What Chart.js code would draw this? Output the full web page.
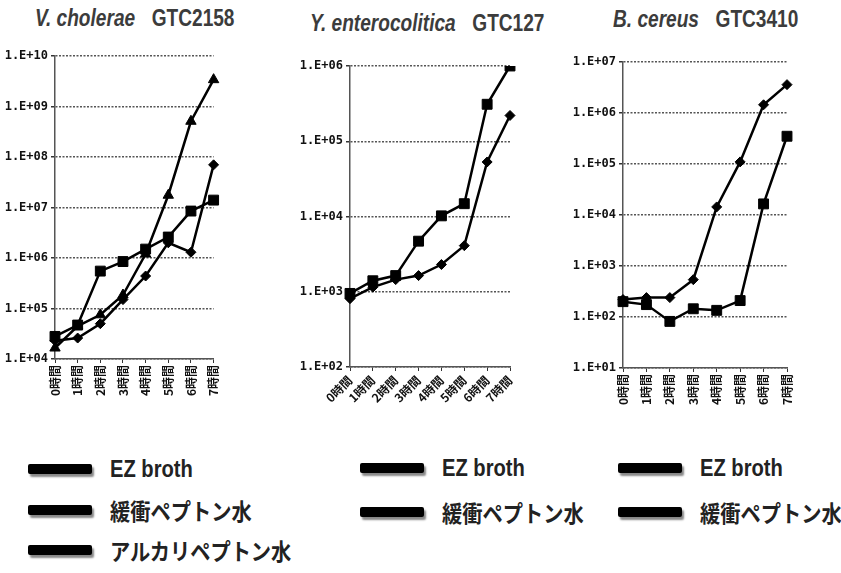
<!DOCTYPE html>
<html>
<head>
<meta charset="utf-8">
<script src="https://cdn.jsdelivr.net/npm/chart.js@4.4.1/dist/chart.umd.min.js"></script>
<style>
  body { margin: 0; background: #fff; width: 841px; height: 573px; position: relative; overflow: hidden;
         font-family: 'Liberation Sans Narrow', 'Liberation Sans', sans-serif; }
  canvas { position: absolute; top: 0; }
  .title { position: absolute; font-weight: bold; font-size: 23px; line-height: 26px; color: #3c3c3c; white-space: nowrap;
           transform: scaleX(0.83); transform-origin: left center; }
  .title i { margin-right: 20px; }
  .leg { position: absolute; height: 30px; display: flex; align-items: center; white-space: nowrap; }
  .bar { width: 64px; height: 10px; background: #000; box-shadow: 2px 3px 2px #888; border-radius: 2px; margin-right: 18px; }
  .en { font-size: 24px; font-weight: bold; color: #222; display: inline-block;
        transform: scaleX(0.84); transform-origin: left center; }
  .jp { font-family: 'Noto Sans CJK JP'; font-size: 23px; font-weight: bold; color: #222;
        display: inline-block; transform: scaleX(0.88); transform-origin: left center; }
</style>
</head>
<body>
<div class="title" style="left:35px;top:5px"><i>V. cholerae</i>GTC2158</div>
<div class="title" style="left:310px;top:10px"><i>Y. enterocolitica</i>GTC127</div>
<div class="title" style="left:613px;top:6px"><i>B. cereus</i>GTC3410</div>

<canvas id="c1" width="230" height="420" style="left:0px"></canvas>
<canvas id="c2" width="250" height="420" style="left:280px"></canvas>
<canvas id="c3" width="281" height="420" style="left:560px"></canvas>

<div class="leg" style="left:28px;top:454px"><span class="bar"></span><span class="en">EZ broth</span></div>
<div class="leg" style="left:28px;top:495px"><span class="bar"></span><span class="jp">緩衝ペプトン水</span></div>
<div class="leg" style="left:28px;top:535px"><span class="bar"></span><span class="jp">アルカリペプトン水</span></div>

<div class="leg" style="left:360px;top:453px"><span class="bar"></span><span class="en">EZ broth</span></div>
<div class="leg" style="left:360px;top:497px"><span class="bar"></span><span class="jp">緩衝ペプトン水</span></div>

<div class="leg" style="left:618px;top:453px"><span class="bar"></span><span class="en">EZ broth</span></div>
<div class="leg" style="left:618px;top:497px"><span class="bar"></span><span class="jp">緩衝ペプトン水</span></div>

<script>
const hours = ['0時間', '1時間', '2時間', '3時間', '4時間', '5時間', '6時間', '7時間'];

// V. cholerae GTC2158
const vcEz  = [2.3e4, 2.6e4, 5.0e4, 1.5e5, 4.4e5, 2.0e6, 1.3e6, 7.0e7];
const vcBpw = [2.8e4, 4.7e4, 5.5e5, 8.5e5, 1.5e6, 2.6e6, 8.5e6, 1.4e7];
const vcApw = [1.65e4, 4.5e4, 7.5e4, 1.85e5, 1.2e6, 1.75e7, 5.1e8, 3.4e9];

// Y. enterocolitica GTC127
const yeEz  = [8.1e2, 1.15e3, 1.45e3, 1.64e3, 2.3e3, 4.1e3, 5.3e4, 2.2e5];
const yeBpw = [9.5e2, 1.4e3, 1.64e3, 4.7e3, 1.02e4, 1.48e4, 3.1e5, 1.0e6];

// B. cereus GTC3410
const bcEz  = [2.2e2, 2.4e2, 2.4e2, 5.4e2, 1.44e4, 1.1e5, 1.45e6, 3.6e6];
const bcBpw = [2.0e2, 1.75e2, 8.2e1, 1.45e2, 1.35e2, 2.1e2, 1.65e4, 3.5e5];

const seriesNames = ['EZ broth', '緩衝ペプトン水', 'アルカリペプトン水'];

function series(label, data, style, radius) {
  return {
    label: label,
    data: data,
    borderColor: '#000',
    backgroundColor: '#000',
    borderWidth: 2.5,
    pointStyle: style,
    pointRadius: radius,
    pointBorderWidth: 1,
    tension: 0,
  };
}

function makeChart(id, datasets, yMin, yMax, rotation, yWidth, xHeight, padTop, padRight) {
  return new Chart(document.getElementById(id), {
    type: 'line',
    data: { labels: hours, datasets: datasets },
    options: {
      responsive: false,
      animation: false,
      layout: { padding: { top: padTop, right: padRight, left: 0, bottom: 0 } },
      plugins: { legend: { display: false }, tooltip: { enabled: false } },
      scales: {
        x: {
          offset: false,
          grid: { drawOnChartArea: false, drawTicks: true, tickLength: 4, tickColor: '#333', tickWidth: 1 },
          border: { display: true, color: '#555', width: 1.5 },
          ticks: {
            autoSkip: false, minRotation: rotation, maxRotation: rotation, padding: 2,
            color: '#111', font: { family: 'Noto Sans CJK JP', size: 12, weight: 'bold' },
          },
          afterFit: (s) => { s.height = xHeight; },
        },
        y: {
          type: 'logarithmic',
          min: yMin,
          max: yMax,
          grid: { color: '#555', lineWidth: 1.5, borderDash: [2, 1.5], tickLength: 4, tickColor: '#333', tickBorderDash: [] },
          border: { display: true, color: '#555', width: 1.5, dash: [2, 1.5] },
          afterBuildTicks: (axis) => {
            const t = [];
            for (let e = Math.round(Math.log10(yMin)); e <= Math.round(Math.log10(yMax)); e++) t.push({ value: Math.pow(10, e) });
            axis.ticks = t;
          },
          ticks: {
            padding: 3,
            color: '#111',
            font: { family: 'DejaVu Sans Mono', size: 12, weight: 'bold' },
            callback: (v) => '1.E+' + String(Math.round(Math.log10(v))).padStart(2, '0'),
          },
          afterFit: (s) => { s.width = yWidth; },
        },
      },
    },
  });
}

makeChart('c1', [
  series(seriesNames[0], vcEz, 'rectRot', 5),
  series(seriesNames[1], vcBpw, 'rect', 7),
  series(seriesNames[2], vcApw, 'triangle', 6),
], 1e4, 1e10, 90, 55, 61, 56, 12);

makeChart('c2', [
  series(seriesNames[0], yeEz, 'rectRot', 5),
  series(seriesNames[1], yeBpw, 'rect', 7),
], 1e2, 1e6, 45, 70, 53, 66, 20);

makeChart('c3', [
  series(seriesNames[0], bcEz, 'rectRot', 5),
  series(seriesNames[1], bcBpw, 'rect', 7),
], 1e1, 1e7, 90, 63, 52, 62, 54);
</script>
</body>
</html>
